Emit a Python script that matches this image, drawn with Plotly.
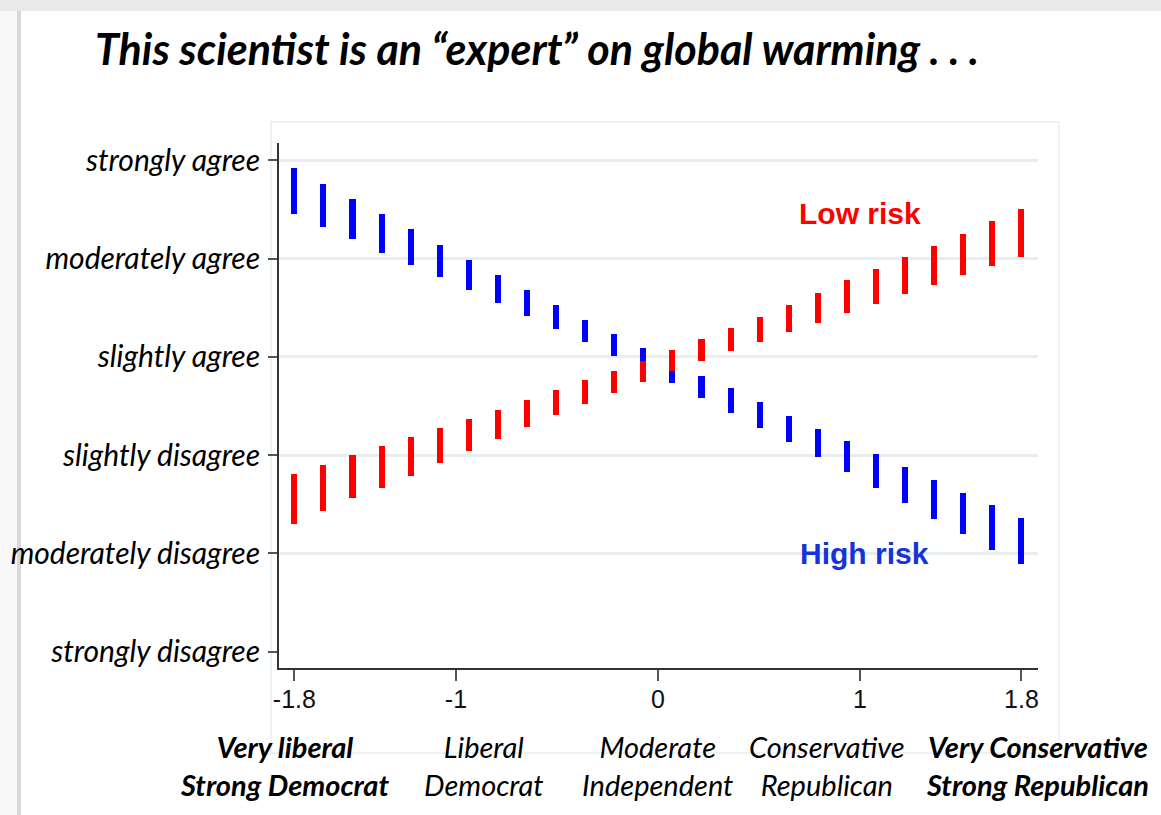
import plotly.graph_objects as go

# ---------------- data ----------------
x_vals = [-1.8, -1.656, -1.512, -1.368, -1.224, -1.08, -0.936, -0.792, -0.648, -0.504,
          -0.36, -0.216, -0.072, 0.072, 0.216, 0.36, 0.504, 0.648, 0.792, 0.936,
          1.08, 1.224, 1.368, 1.512, 1.656, 1.8]

high_risk_upper = [5.92, 5.76, 5.61, 5.45, 5.30, 5.14, 4.99, 4.83, 4.68, 4.53, 4.38, 4.23, 4.09,
                   3.95, 3.81, 3.68, 3.54, 3.40, 3.27, 3.14, 3.01, 2.88, 2.75, 2.62, 2.49, 2.36]
high_risk_lower = [5.45, 5.32, 5.20, 5.06, 4.94, 4.81, 4.68, 4.55, 4.42, 4.28, 4.15, 4.01, 3.87,
                   3.73, 3.58, 3.43, 3.28, 3.13, 2.98, 2.83, 2.67, 2.51, 2.35, 2.20, 2.04, 1.89]

low_risk_upper = [2.81, 2.90, 3.00, 3.09, 3.18, 3.28, 3.37, 3.46, 3.56, 3.66, 3.76, 3.86, 3.96,
                  4.07, 4.18, 4.29, 4.41, 4.53, 4.65, 4.78, 4.89, 5.02, 5.13, 5.25, 5.38, 5.51]
low_risk_lower = [2.30, 2.43, 2.56, 2.67, 2.79, 2.92, 3.04, 3.16, 3.29, 3.41, 3.52, 3.63, 3.74,
                  3.86, 3.96, 4.06, 4.15, 4.25, 4.35, 4.45, 4.54, 4.64, 4.73, 4.83, 4.93, 5.02]

y_tickvals = [1, 2, 3, 4, 5, 6]
y_ticktext = ["strongly disagree", "moderately disagree", "slightly disagree",
              "slightly agree", "moderately agree", "strongly agree"]
grid_vals = [2, 3, 4, 5, 6]

x_tickvals = [-1.8, -1, 0, 1, 1.8]
x_ticktext = ["-1.8", "-1", "0", "1", "1.8"]

group_labels = [
    ("Very liberal<br>Strong Democrat", -1.851, "bold"),
    ("Liberal<br>Democrat", -0.86, "normal"),
    ("Moderate<br>Independent", 0.0, "normal"),
    ("Conservative<br>Republican", 0.835, "normal"),
    ("Very Conservative<br>Strong Republican", 1.881, "bold"),
]

title_text = "This scientist is an \u201cexpert\u201d on global warming . . ."

# ---------------- figure ----------------
BAR_W = 0.03
fig = go.Figure()

fig.add_trace(go.Bar(
    x=x_vals,
    y=[u - l for u, l in zip(high_risk_upper, high_risk_lower)],
    base=high_risk_lower,
    width=BAR_W,
    marker=dict(color="#0000ff", line=dict(width=0)),
    name="High risk",
    xaxis="x", yaxis="y",
))
fig.add_trace(go.Bar(
    x=x_vals,
    y=[u - l for u, l in zip(low_risk_upper, low_risk_lower)],
    base=low_risk_lower,
    width=BAR_W,
    marker=dict(color="#ff0000", line=dict(width=0)),
    name="Low risk",
    xaxis="x", yaxis="y2",
))

YR = [0.834, 6.177]
XR = [-1.876, 1.882]

W, H = 1161, 815
ML, MR, MT, MB = 279, 123, 143, 147
PW = W - ML - MR
PH = H - MT - MB


def px(xp):
    return (xp - ML) / PW


def py(yp):
    return (H - MB - yp) / PH


label_font = "Lato, 'Open Sans', sans-serif"

annotations = []
for txt, xpos, wt in group_labels:
    annotations.append(dict(
        text=txt, x=xpos, xref="x", y=py(765.5), yref="paper",
        xanchor="center", yanchor="middle", showarrow=False, align="center",
        font=dict(family=label_font, size=29, color="#000", style="italic", weight=wt),
    ))

annotations.append(dict(
    text="Low risk", x=1.003, xref="x", y=5.455, yref="y",
    xanchor="center", yanchor="middle", showarrow=False,
    font=dict(family="Liberation Sans, Arial, sans-serif", size=30, color="#ff0000", weight="bold"),
))
annotations.append(dict(
    text="High risk", x=1.023, xref="x", y=2.0, yref="y",
    xanchor="center", yanchor="middle", showarrow=False,
    font=dict(family="Liberation Sans, Arial, sans-serif", size=30, color="#1433d9", weight="bold"),
))

shapes = [
    # page shadow (top and left)
    dict(type="rect", xref="paper", yref="paper", x0=px(-5), x1=px(W + 5), y0=py(11), y1=py(-5),
         fillcolor="#e9e9e9", line=dict(width=0), layer="below"),
    dict(type="rect", xref="paper", yref="paper", x0=px(-5), x1=px(17), y0=py(H + 5), y1=py(11),
         fillcolor="#f8f8f8", line=dict(width=0), layer="below"),
    dict(type="line", xref="paper", yref="paper", x0=px(19), x1=px(19), y0=py(H + 5), y1=py(11),
         line=dict(color="#d8d8d8", width=4), layer="below"),
    # graph region frame
    dict(type="rect", xref="paper", yref="paper", x0=px(271), x1=px(1059), y0=py(753), y1=py(122),
         fillcolor="rgba(0,0,0,0)", line=dict(color="#eef2f2", width=2), layer="below"),
]

fig.update_layout(
    width=W, height=H, autosize=False,
    margin=dict(l=ML, r=MR, t=MT, b=MB, pad=0),
    paper_bgcolor="white", plot_bgcolor="white",
    barmode="overlay", bargap=0, showlegend=False,
    title=dict(
        text=title_text, x=95 / W, xanchor="left", xref="container",
        y=1 - 50 / H, yanchor="middle", yref="container",
        font=dict(family=label_font, size=43, color="#000", style="italic", weight="bold"),
    ),
    xaxis=dict(
        range=XR, tickmode="array", tickvals=x_tickvals, ticktext=x_ticktext,
        showgrid=False, zeroline=False, showline=True, linecolor="#333", linewidth=2,
        ticks="outside", ticklen=11, tickwidth=1.5, tickcolor="#555",
        tickfont=dict(family="Liberation Sans, Arial, sans-serif", size=25, color="#111"),
        ticklabelstandoff=-3,
    ),
    yaxis=dict(
        range=YR, tickmode="array", tickvals=grid_vals, showticklabels=False,
        showgrid=True, gridcolor="#e8eef0", gridwidth=2.5, zeroline=False,
        showline=False, ticks="",
    ),
    yaxis2=dict(
        range=YR, overlaying="y", anchor="x", side="left",
        tickmode="array", tickvals=y_tickvals, ticktext=y_ticktext,
        showgrid=False, zeroline=False, showline=True, linecolor="#333", linewidth=2,
        ticks="outside", ticklen=9, tickwidth=1.5, tickcolor="#555",
        tickfont=dict(family=label_font, size=30, color="#000", style="italic"),
        ticklabelstandoff=2,
    ),
    annotations=annotations,
    shapes=shapes,
)

fig.write_html(
    "out.html",
    config={"displayModeBar": False},
    post_script="document.body.style.margin='0';document.body.style.padding='0';",
)
